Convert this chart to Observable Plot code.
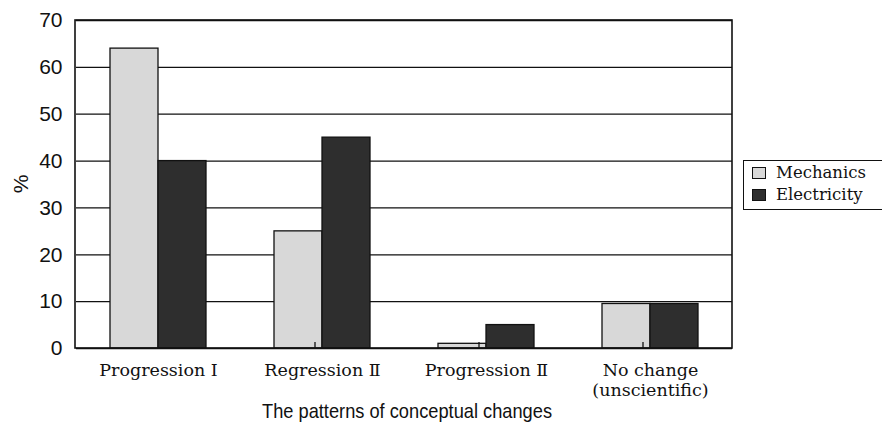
<!DOCTYPE html>
<html>
<head>
<meta charset="utf-8">
<script src="https://cdn.jsdelivr.net/npm/d3@7"></script>
<script src="https://cdn.jsdelivr.net/npm/@observablehq/plot@0.6"></script>
<style>
  html, body { margin: 0; padding: 0; background: #fff; }
  #wrap { position: relative; width: 882px; height: 429px; overflow: hidden; }
  #legend {
    position: absolute; left: 743px; top: 160px; width: 150px; height: 50px;
    border: 1px solid #111; box-sizing: border-box; background: #fff;
    font-family: "DejaVu Serif", serif; font-size: 16.5px; color: #111;
  }
  #legend .row { position: absolute; left: 8px; display: flex; align-items: center; }
  #legend .sw { width: 14px; height: 12px; border: 1px solid #111; box-sizing: border-box; margin-right: 10px; }
</style>
</head>
<body>
<div id="wrap">
  <div id="chart"></div>
  <div id="legend"></div>
</div>
<script>
const categories = ["Progression I", "Regression Ⅱ", "Progression Ⅱ", "No change\n(unscientific)"];
const seriesNames = ["Mechanics", "Electricity"];
const mechanics = [64, 25, 1, 9.5];
const electricity = [40, 45, 5, 9.5];
const yTicks = [0, 10, 20, 30, 40, 50, 60, 70];
const seriesColors = ["#d8d8d8", "#2e2e2e"];

const data = [];
categories.forEach((c, i) => {
  data.push({category: c, series: seriesNames[0], value: mechanics[i]});
  data.push({category: c, series: seriesNames[1], value: electricity[i]});
});

const W = 882, H = 429, ML = 75, MR = 150, MT = 20, MB = 81;

const chart = Plot.plot({
  width: W,
  height: H,
  marginLeft: ML,
  marginRight: MR,
  marginTop: MT,
  marginBottom: MB,
  style: {fontFamily: "'Liberation Sans', Arial, sans-serif", background: "#fff", color: "#111"},
  fx: {domain: categories, padding: 0, label: null},
  x: {domain: seriesNames, paddingInner: 0, paddingOuter: 0.69, axis: null},
  y: {domain: [0, 70], ticks: yTicks, label: null},
  color: {domain: seriesNames, range: seriesColors},
  marks: [
    Plot.gridY(yTicks, {stroke: "#111", strokeOpacity: 1, strokeWidth: 1.3, facet: "exclude"}),
    Plot.barY(data, {fx: "category", x: "series", y: "value", fill: "series", stroke: "#111", strokeWidth: 1.3}),
    Plot.axisY(yTicks, {tickSize: 0, tickPadding: 14, fontSize: 21, label: null, anchor: "left"}),
    Plot.axisFx({anchor: "bottom", tickSize: 0, tickPadding: 13, fontSize: 17.5, fontFamily: "'DejaVu Serif', serif", label: null, lineHeight: 1.15})
  ]
});

document.getElementById("chart").appendChild(chart);

const svg = d3.select(chart);
const fx = chart.scale("fx");
const yS = chart.scale("y");
const base = yS.apply(0);

// single outer frame
svg.append("rect").attr("x", ML).attr("y", MT).attr("width", W - ML - MR).attr("height", H - MT - MB)
  .attr("fill", "none").attr("stroke", "#111").attr("stroke-width", 1.6);

// boundary ticks between category groups, from the fx scale
categories.slice(0, -1).forEach(c => {
  const xb = fx.apply(c) + fx.bandwidth + ML;
  svg.append("line").attr("x1", xb).attr("x2", xb).attr("y1", base).attr("y2", base - 6)
    .attr("stroke", "#111").attr("stroke-width", 1.3);
});

// y label "%"
svg.append("text").attr("transform", `translate(22,${yS.apply(35)}) rotate(-90)`)
  .attr("text-anchor", "middle").attr("dominant-baseline", "middle")
  .attr("font-size", 21).attr("font-family", "'Liberation Sans', Arial, sans-serif")
  .attr("fill", "#111").text("%");

// x title
svg.append("text").attr("x", 262).attr("y", 418)
  .attr("text-anchor", "start")
  .attr("font-size", 21).attr("textLength", 290).attr("lengthAdjust", "spacingAndGlyphs")
  .attr("font-family", "'Liberation Sans', Arial, sans-serif")
  .attr("fill", "#111").text("The patterns of conceptual changes");

// legend
const lg = document.getElementById("legend");
seriesNames.forEach((s, i) => {
  const row = document.createElement("div");
  row.className = "row";
  row.style.top = (2 + i * 22) + "px";
  const sw = document.createElement("div");
  sw.className = "sw";
  sw.style.background = seriesColors[i];
  const t = document.createElement("span");
  t.textContent = s;
  row.appendChild(sw);
  row.appendChild(t);
  lg.appendChild(row);
});
</script>
</body>
</html>
